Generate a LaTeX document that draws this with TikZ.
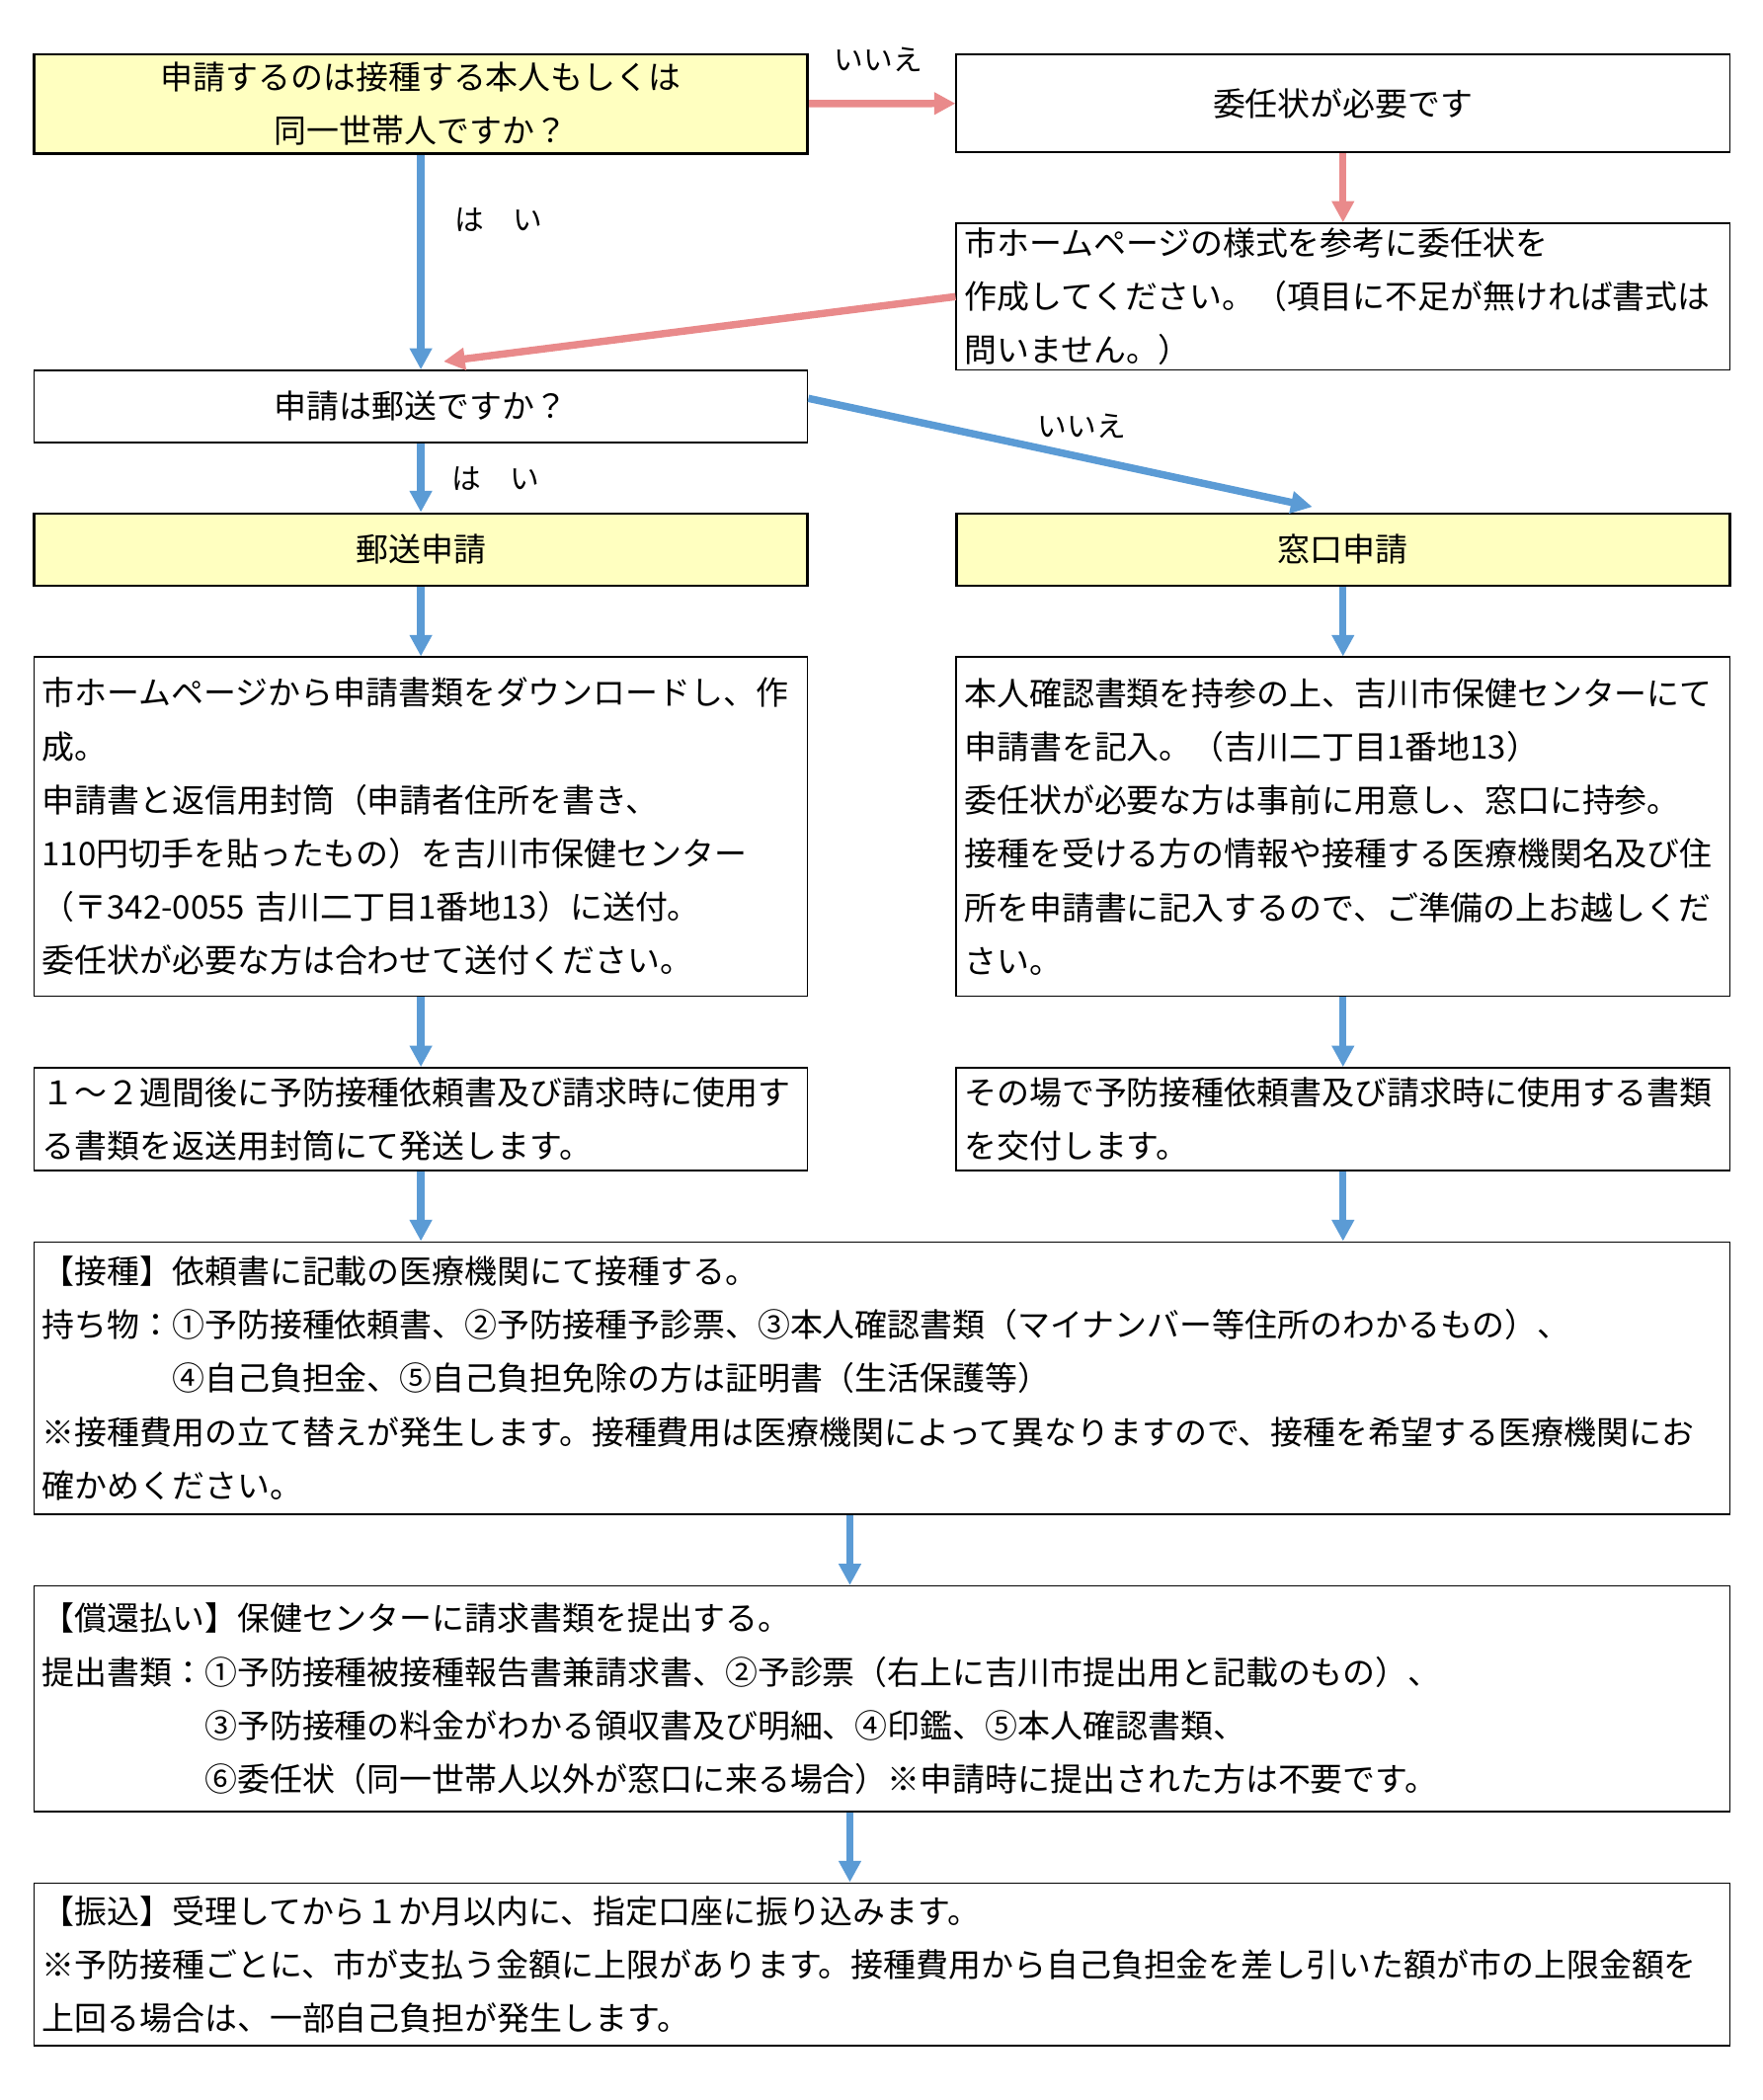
\documentclass[tikz,border=0pt]{standalone}
\usepackage{fontspec}
\setmainfont{Noto Sans CJK JP}
\usetikzlibrary{arrows.meta}
\definecolor{flowblue}{RGB}{91,155,213}
\definecolor{flowpink}{RGB}{233,138,139}
\definecolor{boxyellow}{RGB}{255,255,192}

\tikzstyle{box}=[draw,line width=1.1bp,inner xsep=6bp,inner ysep=0pt,font=\fontsize{24.36bp}{40.1bp}\selectfont]
\tikzstyle{narrow box}=[box,minimum width=579.3bp,text width=567.3bp]
\tikzstyle{wide box}=[box,minimum width=1270bp,text width=1258bp,align=left]
\tikzstyle{choice}=[line width=2bp,fill=boxyellow]
\tikzstyle{blue arrow}=[draw,line width=5.5bp,flowblue,-{Triangle[width=16bp,length=16bp]}]
\tikzstyle{pink arrow}=[blue arrow,flowpink]
\tikzstyle{answer}=[font=\fontsize{22bp}{26bp}\selectfont]

\begin{document}
\begin{tikzpicture}[x=1.0023bp,y=-1.0023bp]
  \useasboundingbox (-0.45,-0.6) rectangle (1316.5,1568.3);
  % the questions and the two ways
  \node[narrow box,choice,align=center,minimum height=74bp] (ask) at (314,77)
    {申請するのは接種する本人もしくは\\同一世帯人ですか？};
  \node[narrow box,align=center,minimum height=73bp] (proxy) at (1003,76.5) {委任状が必要です};
  \node[narrow box,align=left,minimum height=110bp] (form) at (1003,221)
    {市ホームページの様式を参考に委任状を\\作成してください。（項目に不足が無ければ書式は\\問いません。）};
  \node[narrow box,align=center,minimum height=54bp] (mail) at (314,303) {申請は郵送ですか？};
  \node[narrow box,choice,align=center,minimum height=54bp] (post) at (314,410) {郵送申請};
  \node[narrow box,choice,align=center,minimum height=54bp] (desk) at (1003,410) {窓口申請};

  % what to do on each way
  \node[narrow box,align=left,minimum height=254bp] (poststeps) at (314,617)
    {市ホームページから申請書類をダウンロードし、作\\成。\\申請書と返信用封筒（申請者住所を書き、\\110円切手を貼ったもの）を吉川市保健センター\\（〒342-0055 吉川二丁目1番地13）に送付。\\委任状が必要な方は合わせて送付ください。};
  \node[narrow box,align=left,minimum height=254bp] (desksteps) at (1003,617)
    {本人確認書類を持参の上、吉川市保健センターにて\\申請書を記入。（吉川二丁目1番地13）\\委任状が必要な方は事前に用意し、窓口に持参。\\接種を受ける方の情報や接種する医療機関名及び住\\所を申請書に記入するので、ご準備の上お越しくだ\\さい。};
  \node[narrow box,align=left,minimum height=77bp] (postsend) at (314,835.5)
    {１～２週間後に予防接種依頼書及び請求時に使用す\\る書類を返送用封筒にて発送します。};
  \node[narrow box,align=left,minimum height=77bp] (deskgive) at (1003,835.5)
    {その場で予防接種依頼書及び請求時に使用する書類\\を交付します。};

  % common steps
  \node[wide box,minimum height=204bp] (vaccinate) at (658.5,1029)
    {【接種】依頼書に記載の医療機関にて接種する。\\持ち物：①予防接種依頼書、②予防接種予診票、③本人確認書類（マイナンバー等住所のわかるもの）、\\\hspace*{4em}④自己負担金、⑤自己負担免除の方は証明書（生活保護等）\\※接種費用の立て替えが発生します。接種費用は医療機関によって異なりますので、接種を希望する医療機関にお\\確かめください。};
  \node[wide box,minimum height=169bp] (refund) at (658.5,1268.5)
    {【償還払い】保健センターに請求書類を提出する。\\提出書類：①予防接種被接種報告書兼請求書、②予診票（右上に吉川市提出用と記載のもの）、\\\hspace*{5em}③予防接種の料金がわかる領収書及び明細、④印鑑、⑤本人確認書類、\\\hspace*{5em}⑥委任状（同一世帯人以外が窓口に来る場合）※申請時に提出された方は不要です。};
  \node[wide box,minimum height=122bp] (transfer) at (658.5,1467)
    {【振込】受理してから１か月以内に、指定口座に振り込みます。\\※予防接種ごとに、市が支払う金額に上限があります。接種費用から自己負担金を差し引いた額が市の上限金額を\\上回る場合は、一部自己負担が発生します。};

  % answers
  \node[answer] (no1) at (656,44) {いいえ};
  \node[answer] (yes1) at (372,164) {は　い};
  \node[answer] (no2) at (808,318) {いいえ};
  \node[answer] (yes2) at (370,357) {は　い};

  % connect the boxes
  \foreach \source/\dest in {ask/proxy, proxy/form}
    \path[pink arrow] (\source) -- (\dest);
  \path[pink arrow] (form.west) -- ([xshift=17bp,yshift=6bp]mail.north);
  \foreach \source/\dest in {ask/mail, mail/post, post/poststeps, desk/desksteps,
    poststeps/postsend, desksteps/deskgive}
    \path[blue arrow] (\source) -- (\dest);
  \path[blue arrow] ([yshift=6bp]mail.east) -- ([xshift=-23bp,yshift=4bp]desk.north);
  \foreach \source in {postsend, deskgive}
    \path[blue arrow] (\source.south) -- (\source.south |- vaccinate.north);
  \foreach \source/\dest in {vaccinate/refund, refund/transfer}
    \path[blue arrow] ([xshift=-24bp]\source.south) -- ([xshift=-24bp]\dest.north);
\end{tikzpicture}
\end{document}
